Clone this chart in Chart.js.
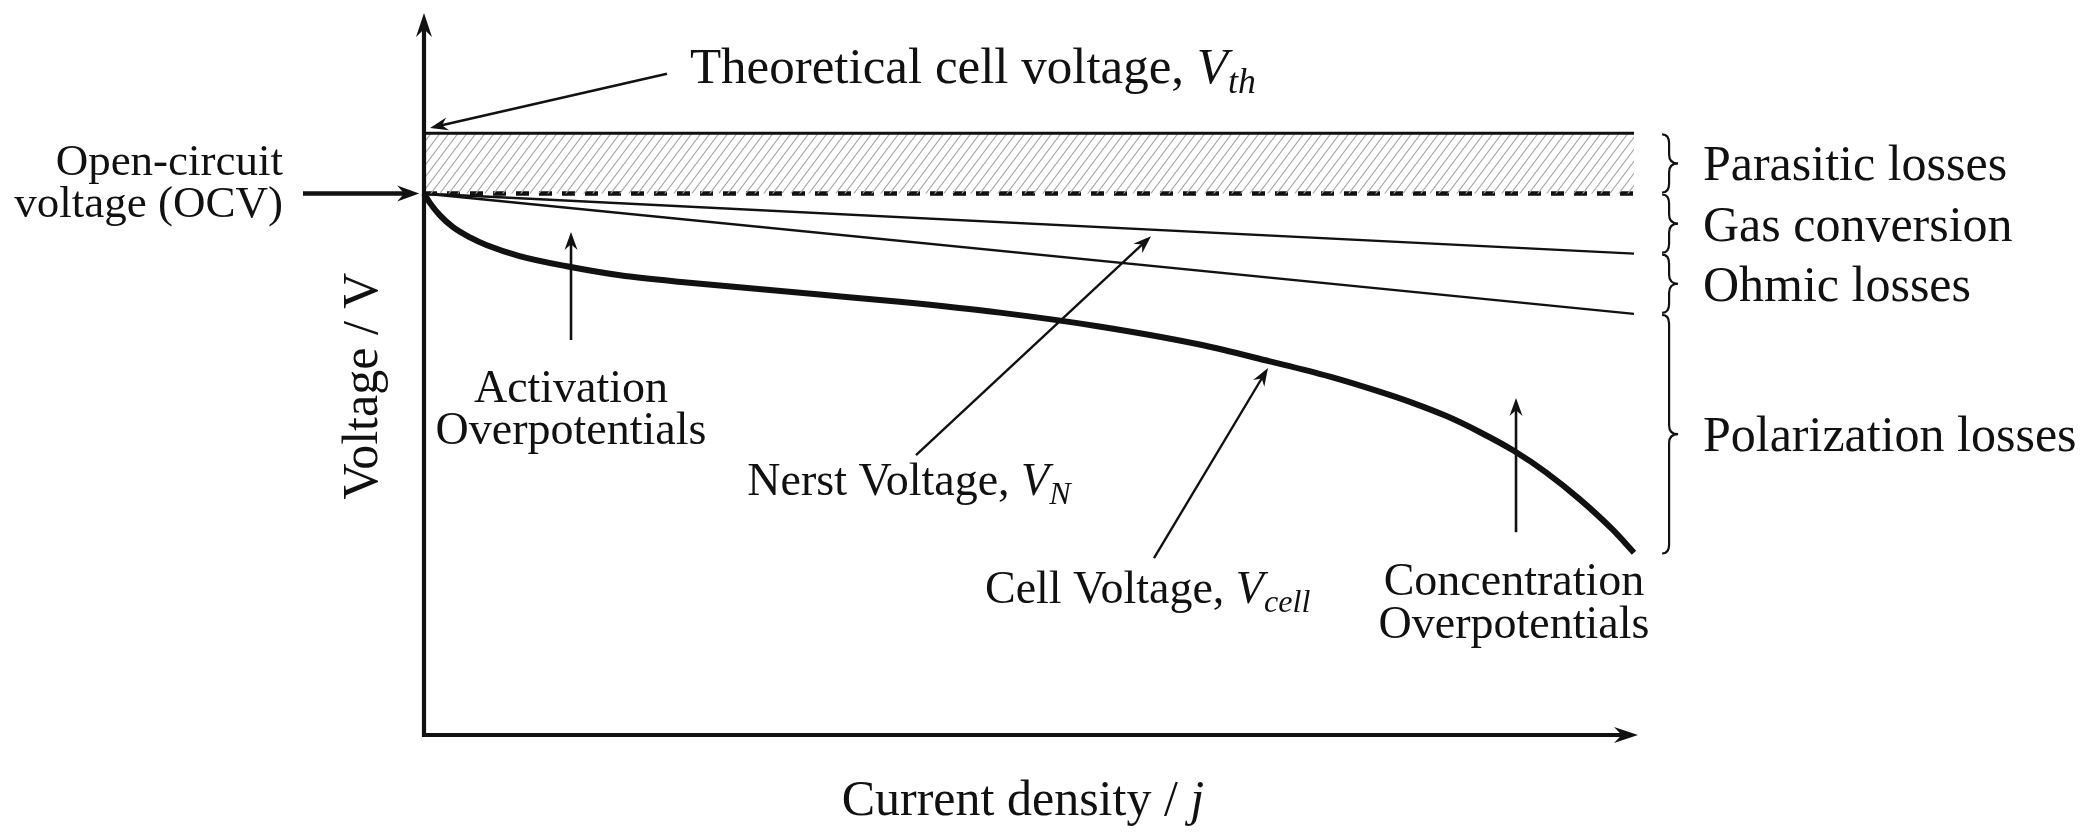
<!DOCTYPE html>
<html>
<head>
<meta charset="utf-8">
<title>Polarization curve</title>
<script src="https://cdn.jsdelivr.net/npm/chart.js@4.4.1/dist/chart.umd.min.js"></script>
<style>
  html, body { margin: 0; padding: 0; background: #fff; }
  #wrap { width: 2093px; height: 838px; position: relative; }
</style>
</head>
<body>
<div id="wrap"><canvas id="polCurve"></canvas></div>
<script>
// current density (arb. units) and voltage (arb. V)
const jLine = [0, 100];
const vTheoretical = [1.0, 1.0];
const vOCV = [0.9, 0.9];
const vNernst = [0.9, 0.8];
const vOhmic = [0.9, 0.7];

// cell voltage curve
const jCell = [0, 0.5, 1.3, 2.4, 3.8, 5.2, 7.9, 11.8, 16.2, 21.7, 27.2, 32.7, 39.3, 47.6, 55.8, 64.1, 69.9, 74.8, 78.9, 81.7, 84.5, 87.2, 90.1, 92.7, 95.5, 98.2, 100];
const vCell = [0.900, 0.884, 0.864, 0.844, 0.827, 0.814, 0.796, 0.779, 0.764, 0.752, 0.742, 0.732, 0.720, 0.702, 0.679, 0.649, 0.621, 0.596, 0.571, 0.552, 0.530, 0.504, 0.472, 0.437, 0.392, 0.342, 0.303];

// loss bands marked with braces on the right
const bandLabels = ["Parasitic losses", "Gas conversion", "Ohmic losses", "Polarization losses"];
const bandTop = [1.0, 0.9, 0.8, 0.7];
const bandBottom = [0.9, 0.8, 0.7, 0.3];

const FONT = '"Liberation Serif", "Times New Roman", serif';
const INK = '#111';

// text labels, positioned in data units (j, V)
const labels = [
    { runs: [['Theoretical cell voltage, '], ['V', 'i'], ['th', 's']], at: [21.98, 1.0836], size: 51, align: 'left' },
    { runs: [['Open-circuit']], at: [-11.65, 0.9307], size: 45, align: 'right' },
    { runs: [['voltage (OCV)']], at: [-11.65, 0.861], size: 45, align: 'right' },
    { runs: [['Activation']], at: [12.15, 0.5535], size: 46, align: 'center' },
    { runs: [['Overpotentials']], at: [12.15, 0.4836], size: 46, align: 'center' },
    { runs: [['Nerst Voltage, '], ['V', 'i'], ['N', 's']], at: [40.08, 0.3989], size: 46, align: 'center' },
    { runs: [['Cell Voltage, '], ['V', 'i'], ['cell', 's']], at: [46.36, 0.2194], size: 46, align: 'left' },
    { runs: [['Concentration']], at: [90.08, 0.2327], size: 46, align: 'center' },
    { runs: [['Overpotentials']], at: [90.08, 0.1612], size: 46, align: 'center' },
    { runs: [['Current density / '], ['j', 'i']], at: [49.5, -0.133], size: 50, align: 'center' }
];

// annotation arrows [from, to] in data units
const pointers = [
    { from: [20.08, 1.099], to: [0.5, 1.009], w: 2.4 },
    { from: [-10.0, 0.9], to: [-0.4, 0.9], w: 4.5, big: true },
    { from: [12.15, 0.6565], to: [12.15, 0.836], w: 2.6 },
    { from: [40.66, 0.465], to: [60.08, 0.829], w: 2.4 },
    { from: [60.33, 0.294], to: [69.75, 0.610], w: 2.4 },
    { from: [90.25, 0.337], to: [90.25, 0.560], w: 2.6 }
];

function pts(xs, ys) {
    return xs.map((x, i) => ({ x: x, y: ys[i] }));
}

function hatchPattern() {
    const c = document.createElement('canvas');
    const w = 9, h = 12;
    c.width = w; c.height = h;
    const g = c.getContext('2d');
    g.strokeStyle = '#a8a8a8';
    g.lineWidth = 1.1;
    g.beginPath();
    [-w, 0, w].forEach(off => {
        g.moveTo(off - w, 2 * h);
        g.lineTo(off + 2 * w, -h);
    });
    g.stroke();
    return g.createPattern(c, 'repeat');
}

function drawRuns(ctx, runs, x, y, size, align) {
    const parts = runs.map(([text, style]) => {
        const sub = style === 's';
        const fs = sub ? size * 0.7 : size;
        const font = (style ? 'italic ' : '') + fs + 'px ' + FONT;
        ctx.font = font;
        return { text, font, w: ctx.measureText(text).width, dy: sub ? size * 0.2 : 0 };
    });
    const total = parts.reduce((a, p) => a + p.w, 0);
    let cx = align === 'center' ? x - total / 2 : align === 'right' ? x - total : x;
    ctx.textAlign = 'left';
    ctx.textBaseline = 'alphabetic';
    parts.forEach(p => {
        ctx.font = p.font;
        ctx.fillText(p.text, cx, y + p.dy);
        cx += p.w;
    });
}

function arrow(ctx, x1, y1, x2, y2, w, L, W) {
    const a = Math.atan2(y2 - y1, x2 - x1);
    ctx.lineWidth = w;
    ctx.beginPath();
    ctx.moveTo(x1, y1);
    ctx.lineTo(x2 - Math.cos(a) * L * 0.6, y2 - Math.sin(a) * L * 0.6);
    ctx.stroke();
    ctx.save();
    ctx.translate(x2, y2);
    ctx.rotate(a);
    ctx.beginPath();
    ctx.moveTo(0, 0);
    ctx.lineTo(-L, -W);
    ctx.lineTo(-L * 0.68, 0);
    ctx.lineTo(-L, W);
    ctx.closePath();
    ctx.fill();
    ctx.restore();
}

function brace(ctx, x, y0, y1) {
    const xl = x - 7, xt = x + 9, r = 9;
    const ym = (y0 + y1) / 2;
    ctx.lineWidth = 2.2;
    ctx.beginPath();
    ctx.moveTo(xl, y0);
    ctx.quadraticCurveTo(x, y0, x, y0 + r);
    ctx.lineTo(x, ym - r);
    ctx.quadraticCurveTo(x, ym, xt, ym);
    ctx.quadraticCurveTo(x, ym, x, ym + r);
    ctx.lineTo(x, y1 - r);
    ctx.quadraticCurveTo(x, y1, xl, y1);
    ctx.stroke();
}

const annotationsPlugin = {
    id: 'annotations',
    afterDatasetsDraw(chart) {
        const { ctx, chartArea } = chart;
        const xs = chart.scales.x, ys = chart.scales.y;
        const px = v => xs.getPixelForValue(v);
        const py = v => ys.getPixelForValue(v);

        ctx.save();
        ctx.strokeStyle = INK;
        ctx.fillStyle = INK;
        ctx.lineCap = 'butt';

        // axes with arrow heads
        const ox = chartArea.left, oy = chartArea.bottom;
        arrow(ctx, ox, oy + 2, ox, chartArea.top, 4.2, 24, 8);
        arrow(ctx, ox - 2, oy, chartArea.right + 4, oy, 4.2, 24, 8);

        // pointer arrows
        pointers.forEach(p => {
            arrow(ctx, px(p.from[0]), py(p.from[1]), px(p.to[0]), py(p.to[1]), p.w,
                  p.big ? 22 : 18, p.big ? 8 : 6.5);
        });

        // braces and band labels
        const bx = px(102.9);
        bandLabels.forEach((name, i) => {
            const y0 = py(bandTop[i]) + 1, y1 = py(bandBottom[i]) - 1;
            brace(ctx, bx, y0, y1);
            drawRuns(ctx, [[name]], px(105.7), (y0 + y1) / 2 + 17, 50, 'left');
        });

        // text labels
        labels.forEach(l => {
            drawRuns(ctx, l.runs, px(l.at[0]), py(l.at[1]), l.size, l.align);
        });

        // y axis title
        ctx.save();
        ctx.translate(px(-3.9), py(0.58));
        ctx.rotate(-Math.PI / 2);
        drawRuns(ctx, [['Voltage / V']], 0, 0, 50, 'center');
        ctx.restore();

        ctx.restore();
    }
};

const lineBase = { borderColor: INK, pointRadius: 0, fill: false, clip: 10 };

new Chart(document.getElementById('polCurve'), {
    type: 'line',
    data: {
        datasets: [
            Object.assign({}, lineBase, {
                label: 'Theoretical cell voltage', data: pts(jLine, vTheoretical),
                borderWidth: 3, fill: '+1', backgroundColor: hatchPattern()
            }),
            Object.assign({}, lineBase, {
                label: 'Open-circuit voltage', data: pts(jLine, vOCV),
                borderWidth: 4.5, borderDash: [13, 10]
            }),
            Object.assign({}, lineBase, {
                label: 'Nernst voltage', data: pts(jLine, vNernst), borderWidth: 2.4
            }),
            Object.assign({}, lineBase, {
                label: 'Ohmic', data: pts(jLine, vOhmic), borderWidth: 2.4
            }),
            Object.assign({}, lineBase, {
                label: 'Cell voltage', data: pts(jCell, vCell),
                borderWidth: 6, cubicInterpolationMode: 'monotone'
            })
        ]
    },
    options: {
        responsive: true,
        maintainAspectRatio: false,
        animation: false,
        layout: { padding: { left: 424, right: 459, top: 13, bottom: 103 } },
        scales: {
            x: { type: 'linear', min: 0, max: 100, display: false },
            y: { type: 'linear', min: 0, max: 1.2, display: false }
        },
        plugins: {
            legend: { display: false },
            tooltip: { enabled: false }
        }
    },
    plugins: [annotationsPlugin]
});
</script>
</body>
</html>
